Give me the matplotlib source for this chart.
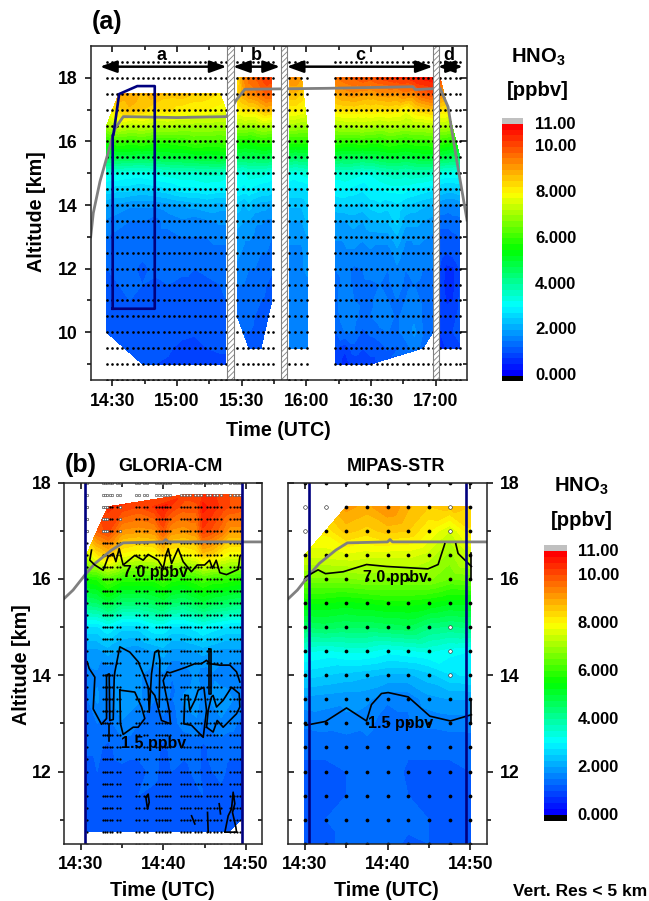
#!/usr/bin/python3
"""HNO3 cross sections: GLORIA flight curtain plus GLORIA-CM / MIPAS-STR zoom.
Times are minutes after 14:30 UTC.
"""

import numpy as np
import matplotlib
matplotlib.use("Agg")
import matplotlib.pyplot as plt
from matplotlib.colors import LinearSegmentedColormap, BoundaryNorm

plt.rcParams['font.family'] = ['Liberation Sans', 'DejaVu Sans']
plt.rcParams['font.weight'] = 'bold'
plt.rcParams['mathtext.default'] = 'regular'
plt.rcParams['hatch.linewidth'] = 0.6

n = np.nan

# colour scale
levels = [0, .25, .5, .75, 1, 1.25, 1.5, 1.75, 2, 2.25, 2.5, 2.75, 3, 3.25, 3.5,
          3.75, 4, 4.25, 4.5, 4.75, 5, 5.25, 5.5, 5.75, 6, 6.25, 6.5, 6.75, 7,
          7.25, 7.5, 7.75, 8, 8.25, 8.5, 8.75, 9, 9.25, 9.5, 9.75, 10, 10.25,
          10.5, 10.75, 11]
cbar_ticks = [0, 2, 4, 6, 8, 10, 11]
cbar_labels = ['0.000', '2.000', '4.000', '6.000', '8.000', '10.00', '11.00']

# panel (a): altitude rows of the filled curtain
alt_a = [18, 17.5, 17, 16.5, 16, 15.5, 15, 14.5, 14, 13.5, 13, 12.5, 12, 11.5,
         11, 10.5, 10, 9.5, 9]

time_seg_a = [-2.6, 3, 8, 14, 20, 26, 32, 38, 44, 50, 52.7]
hno3_seg_a = [
    [n, n, n, n, n, n, n, n, n, n, n],
    [n, 9.1, 9.0, 8.7, 8.9, 8.6, 8.7, 8.5, 8.4, 8.2, n],
    [n, 8.4, 8.7, 8.5, 8.2, 8.3, 8.1, 8.0, 8.0, 7.9, 7.8],
    [7.1, 7.5, 7.3, 7.4, 7.2, 7.2, 7.1, 7.1, 7.1, 7.0, 7.0],
    [5.8, 6.1, 6.0, 6.1, 5.9, 5.9, 6.0, 6.2, 6.1, 6.1, 6.2],
    [4.7, 4.8, 4.8, 4.7, 4.8, 4.9, 4.9, 5.0, 5.0, 5.1, 5.0],
    [3.3, 3.3, 3.2, 3.2, 3.3, 3.4, 3.5, 3.5, 3.6, 3.6, 3.5],
    [2.7, 2.6, 2.6, 2.5, 2.6, 2.7, 2.9, 2.9, 3.0, 2.9, 2.9],
    [2.0, 1.9, 1.8, 1.8, 1.8, 1.9, 2.0, 2.1, 2.2, 2.1, 2.1],
    [1.7, 1.6, 1.5, 1.5, 1.4, 1.6, 1.7, 1.6, 1.7, 1.8, 1.8],
    [1.5, 1.4, 1.4, 1.4, 1.4, 1.4, 1.5, 1.5, 1.5, 1.6, 1.6],
    [1.3, 1.3, 1.4, 1.3, 1.25, 1.3, 1.3, 1.4, 1.4, 1.4, 1.4],
    [1.25, 1.3, 1.3, 1.2, 1.3, 1.25, 1.3, 1.25, 1.3, 1.3, 1.3],
    [1.2, 1.25, 1.25, 1.25, 1.2, 1.25, 1.2, 1.2, 1.2, 1.25, 1.25],
    [1.2, 1.2, 1.25, 1.2, 1.25, 1.2, 1.2, 1.15, 1.15, 1.2, 1.25],
    [1.15, 1.2, 1.2, 1.2, 1.15, 1.2, 1.15, 1.1, 1.15, 1.15, 1.2],
    [1.15, 1.1, 1.15, 1.2, 1.15, 1.15, 1.1, 1.05, 1.1, 1.15, 1.15],
    [n, n, 1.1, 1.1, 1.1, 1.05, .9, .85, 1.0, 1.05, 1.05],
    [n, n, n, 1.05, 1.0, .95, .8, .75, .85, .9, .9],
]

time_seg_b = [58, 61, 63.4, 66, 69, 71.5, 74]
hno3_seg_b = [
    [8.3, 9.3, 9.6, 9.7, 10.0, 10.2, 10.1],
    [8.4, 9.0, 9.3, 9.4, 9.6, 9.8, 9.8],
    [8.0, 8.2, 8.3, 8.3, 8.6, 8.8, 8.7],
    [7.1, 7.1, 7.0, 7.0, 7.2, 7.2, 7.1],
    [5.8, 5.7, 5.7, 5.8, 5.9, 5.9, 5.9],
    [4.6, 4.6, 4.7, 4.6, 4.7, 4.7, 4.6],
    [3.3, 3.2, 3.4, 3.4, 3.4, 3.3, 3.2],
    [3.0, 2.9, 3.0, 2.9, 2.8, 2.8, 2.7],
    [2.4, 2.2, 2.4, 2.2, 2.1, 2.1, 2.0],
    [2.1, 2.0, 2.0, 1.8, 1.8, 1.7, 1.7],
    [1.9, 1.8, 1.8, 1.7, 1.6, 1.6, 1.5],
    [1.8, 1.7, 1.6, 1.6, 1.5, 1.5, 1.4],
    [1.7, 1.6, 1.5, 1.5, 1.4, 1.35, 1.3],
    [1.5, 1.5, 1.4, 1.4, 1.35, 1.25, 1.15],
    [1.4, 1.4, 1.35, 1.35, 1.25, 1.2, 1.1],
    [1.35, 1.35, 1.35, 1.25, 1.2, 1.2, n],
    [n, 1.25, 1.25, 1.2, 1.2, n, n],
    [n, n, 1.2, 1.2, 1.15, n, n],
    [n, n, n, n, n, n, n],
]

time_seg_m = [82, 85, 87.8, 90.4]
hno3_seg_m = [
    [9.2, 9.3, 9.0, n],
    [8.7, 8.7, 8.5, n],
    [8.1, 8.1, 8.0, n],
    [7.1, 7.1, 7.0, 7.0],
    [5.9, 5.9, 5.9, 5.9],
    [4.6, 4.5, 4.6, 4.6],
    [3.3, 3.2, 3.3, 3.4],
    [2.7, 2.7, 2.7, 2.8],
    [2.3, 2.3, 2.3, 2.5],
    [2.0, 2.0, 2.0, 2.3],
    [1.8, 1.8, 1.8, 2.0],
    [1.7, 1.7, 1.7, 1.9],
    [1.7, 1.7, 1.7, 1.8],
    [1.6, 1.6, 1.6, 1.7],
    [1.6, 1.6, 1.6, 1.7],
    [1.55, 1.55, 1.55, 1.6],
    [1.55, 1.55, 1.55, 1.6],
    [1.5, 1.55, 1.55, 1.55],
    [n, n, n, n],
]

time_seg_c = [103.3, 108, 112, 116, 119.8, 124, 128, 132, 136, 140, 144, 148.7]
hno3_seg_c = [
    [9.5, 9.7, 9.8, 10.0, 9.9, 10.1, 10.2, 10.3, 10.3, 10.5, 10.6, 10.7],
    [8.9, 9.1, 9.2, 9.1, 9.0, 9.2, 9.2, 9.1, 9.4, 9.3, 9.8, 10.0],
    [8.2, 8.3, 8.3, 8.2, 8.3, 8.2, 8.3, 8.2, 7.9, 8.3, 8.5, 8.7],
    [7.1, 7.2, 7.2, 7.3, 7.2, 7.1, 7.2, 7.2, 7.1, 7.2, 7.2, 7.3],
    [6.0, 5.9, 5.9, 6.0, 5.9, 5.9, 6.1, 6.0, 5.9, 6.0, 6.0, 6.1],
    [4.8, 4.7, 4.7, 4.6, 4.7, 4.8, 4.9, 4.9, 4.8, 4.9, 5.0, 5.0],
    [3.4, 3.5, 3.4, 3.3, 3.3, 3.5, 3.6, 3.7, 3.6, 3.7, 3.7, 3.6],
    [3.0, 3.0, 2.9, 2.8, 3.0, 3.0, 3.1, 3.1, 3.1, 3.0, 2.9, 2.8],
    [2.4, 2.5, 2.5, 2.4, 2.6, 2.7, 2.6, 2.7, 2.5, 2.4, 2.3, 2.2],
    [2.0, 2.0, 2.1, 2.0, 2.2, 2.3, 2.3, 2.6, 2.1, 2.1, 2.0, 1.9],
    [1.8, 1.8, 1.9, 1.8, 1.9, 1.9, 1.9, 2.2, 1.8, 1.8, 1.8, 1.7],
    [1.6, 1.7, 1.7, 1.6, 1.7, 1.6, 1.6, 1.9, 1.6, 1.7, 1.6, 1.6],
    [1.5, 1.6, 1.45, 1.5, 1.6, 1.5, 1.5, 1.7, 1.5, 1.6, 1.5, 1.5],
    [1.4, 1.6, 1.45, 1.45, 1.45, 1.5, 1.45, 1.6, 1.45, 1.5, 1.45, 1.45],
    [1.4, 1.7, 1.5, 1.45, 1.45, 1.6, 1.5, 1.5, 1.5, 1.6, 1.45, 1.4],
    [1.35, 1.7, 1.6, 1.4, 1.5, 1.6, 1.6, 1.45, 1.6, 1.7, 1.45, 1.4],
    [1.2, 1.5, 1.5, 1.2, 1.3, 1.45, 1.5, 1.45, 1.6, 1.8, 1.5, 1.4],
    [1.0, .8, 1.15, 1.0, 1.1, 1.1, 1.3, 1.2, 1.4, 1.6, 1.4, n],
    [1.0, .6, .8, .8, .9, n, n, n, n, n, n, n],
]

time_seg_d = [152, 155, 158, 161.2]
hno3_seg_d = [
    [10.0, n, n, n],
    [9.3, n, n, n],
    [8.3, 8.2, n, n],
    [7.2, 7.2, n, n],
    [6.0, 5.9, 5.8, n],
    [4.8, 4.7, 4.6, 4.5],
    [3.3, 3.2, 3.2, 3.2],
    [2.5, 2.4, 2.4, 2.5],
    [1.8, 1.7, 1.7, 1.8],
    [1.3, 1.3, 1.4, 1.4],
    [1.2, 1.2, 1.2, 1.25],
    [1.15, 1.0, 1.1, 1.15],
    [.95, .65, .7, 1.0],
    [.95, .6, .65, 1.0],
    [.95, .7, .75, 1.05],
    [1.0, .9, .9, 1.1],
    [.75, .9, 1.0, 1.1],
    [.5, .8, .85, .95],
    [n, n, n, n],
]

# panel (a): retrieval grid dots
dot_alt_a = [18.5, 18, 17.5, 17, 16.5, 16, 15.5, 15, 14.5, 14, 13.5, 13, 12.5,
             12, 11.5, 11, 10.5, 10, 9.5, 9, 8.5]
dot_time_a = [-2.6, -0.2, 2.2, 4.6, 7, 9.4, 11.8, 14.2, 16.6, 19, 21.4, 23.8,
              26.2, 28.6, 31, 33.4, 35.8, 38.2, 40.6, 43, 45.4, 47.8, 50.2,
              52.6, 58, 60.4, 62.8, 65.2, 67.6, 70, 72.4, 74.6, 82, 84.7, 87.4,
              90.1, 103.4, 105.8, 108.2, 110.6, 113, 115.4, 117.8, 120.2,
              122.6, 125, 127.4, 129.8, 132.2, 134.6, 137, 139.4, 141.8, 144.2,
              146.6, 148.8, 152, 154.4, 156.8, 159.2, 161.3]

# panel (a): flight altitude and the zoomed box
flight_time_a = [-10, -8.8, -5.7, -1.1, 1.25, 5.1, 30, 53, 57.5, 61.5, 100,
                 139.4, 140.5, 152, 155.7, 159.7, 164.5]
flight_alt_a = [13, 13.75, 14.74, 15.84, 16.4, 16.78, 16.75, 16.78, 17.3, 17.64,
                17.67, 17.72, 17.63, 17.67, 17.09, 15.42, 13.53]
box_time = [0.2, 0.2, 0.5, 3.2, 11.6, 19.7, 19.7, 0.2]
box_alt = [10.74, 16.2, 16.2, 17.49, 17.74, 17.74, 10.74, 10.74]

gap_start = [53, 78.2, 148.9]
gap_end = [56.5, 81.1, 151.6]
leg_start = [-5.7, 56, 80.9, 151]
leg_end = [53, 77.8, 148.6, 162.6]
leg_names = ['a', 'b', 'c', 'd']
leg_name_time = [22.6, 67, 115, 156]

# panel (b): GLORIA-CM
alt_g = [17.75, 17.5, 17, 16.5, 16, 15.5, 15, 14.5, 14, 13.5, 13, 12.5, 12,
         11.5, 11, 10.75]
time_g = [0.7, 2, 3.3, 5, 7, 9, 10, 11, 12.5, 14, 14.8, 16, 17, 18, 19.4]
hno3_g = [
    [n, n, n, n, n, n, n, n, 10.1, 10.2, 10.3, 10.3, 10.1, 10.0, 9.9],
    [n, n, 10.3, 10.2, 10.0, 10.3, 10.6, 10.2, 9.9, 9.9, 10.6, 10.4, 10.2, 10.0, 9.9],
    [n, 9.8, 10.1, 9.2, 9.1, 9.2, 9.9, 9.2, 9.1, 9.3, 10.2, 9.9, 9.6, 9.1, 9.1],
    [7.4, 8.2, 8.6, 7.9, 7.7, 7.8, 8.3, 7.9, 7.8, 8.0, 8.6, 8.4, 8.0, 7.8, 7.8],
    [5.7, 5.8, 6.3, 5.9, 5.9, 5.9, 6.2, 5.9, 5.8, 6.0, 6.2, 6.0, 6.0, 5.9, 5.8],
    [4.4, 4.5, 4.9, 4.4, 4.4, 4.6, 4.8, 4.5, 4.4, 4.7, 4.9, 4.7, 4.6, 4.5, 4.4],
    [2.7, 2.7, 3.0, 2.6, 2.6, 3.0, 3.0, 2.7, 2.7, 2.9, 3.1, 2.9, 2.8, 2.7, 2.7],
    [1.9, 1.9, 2.1, 1.9, 1.8, 2.0, 2.1, 1.9, 1.9, 2.0, 2.1, 2.0, 1.9, 1.9, 1.9],
    [1.6, 1.7, 1.5, 1.9, 1.8, 1.5, 1.7, 1.5, 1.6, 1.8, 1.6, 1.7, 1.6, 1.6, 1.6],
    [1.45, 1.8, 1.45, 2.0, 1.8, 1.5, 1.6, 1.45, 1.8, 1.9, 1.6, 1.8, 1.9, 1.8, 1.6],
    [1.45, 1.5, 1.4, 1.7, 1.5, 1.4, 1.45, 1.4, 1.6, 1.7, 1.45, 1.6, 1.7, 1.6, 1.45],
    [1.3, 1.3, 1.2, 1.35, 1.3, 1.3, 1.2, 1.3, 1.3, 1.35, 1.2, 1.3, 1.35, 1.3, 1.3],
    [1.15, 1.25, 1.15, 1.2, 1.2, 1.3, 1.15, 1.25, 1.2, 1.3, 1.2, 1.25, 1.3, 1.2, 1.2],
    [1.15, 1.2, 1.2, 1.15, 1.25, 1.2, 1.15, 1.25, 1.2, 1.2, 1.25, 1.2, 1.2, 1.15, 1.2],
    [1.15, 1.15, 1.2, 1.15, 1.2, 1.2, 1.15, 1.2, 1.15, 1.2, 1.2, 1.15, 1.2, 1.2, 1.25],
    [1.15, 1.15, 1.15, 1.15, 1.15, 1.15, 1.15, 1.15, 1.15, 1.15, 1.15, 1.15, 1.15, 1.25, n],
]
dot_time_g = [.8, 2.66, 2.94, 3.22, 3.54, 3.82, 4.43, 4.83, 6.69, 7.09, 7.65, 8,
              9.18, 9.5, 9.83, 10.15, 10.47, 10.8, 12.1, 12.5, 12.9, 13.2, 13.8,
              14.2, 14.6, 15.3, 15.7, 16.1, 16.5, 17, 18.1, 18.5, 18.9, 19.3]
dot_alt_g = [17.5, 17.25, 17, 16.75, 16.5, 16.25, 16, 15.75, 15.5, 15.25, 15,
             14.75, 14.5, 14.25, 14, 13.75, 13.5, 13.25, 13, 12.75, 12.5, 12.25,
             12, 11.75, 11.5, 11.25, 11, 10.75]
hollow_alt_g = [18, 17.75]
faint_alt_g = [10.5]
hollow_time_17 = [.8, 2.66, 2.94, 3.22, 4.83]
hollow_alt_17 = [17.5, 17.25, 17]

# 7.0 ppbv and 1.5 ppbv isolines, traced by eye
g70_time = [1.33, 1.12, 1.73, 2.74, 3.34, 3.95, 4.27, 4.67, 5.15, 6.56, 7.57,
            8.18, 9.38, 9.99, 10.31, 10.6, 11, 11.8, 12.4, 13.4, 14.1, 15, 15.6,
            15.95, 16.4, 16.84, 17.65, 19.06, 19.26]
g70_alt = [16.6, 16.39, 16.29, 16.18, 16.46, 16.53, 16.36, 16.63, 16.29, 16.49,
           16.39, 16.51, 16.39, 16.22, 16.49, 16.63, 16.32, 16.63, 16.36, 16.15,
           16.29, 16.29, 16.39, 16.22, 16.39, 16.13, 16.09, 16.2, 16.46]
g15_lines = [
    ([.8, 1.04, 1.73, 1.53, 2.53, 3.14, 3.14, 3.46, 3.54, 3.95, 4.07, 4.15, 4.75,
      5.96, 6.97, 7.65, 8.18, 8.3, 8.58, 8.98, 9.39, 9.59, 9.51],
     [14.28, 14.14, 13.96, 13.3, 12.98, 13.1, 14, 14.03, 13.06, 13.08, 13.96,
      14.07, 14.59, 14.48, 14.28, 14, 13.75, 13.23, 14.03, 14.48, 14.52, 14.31,
      13.34]),
    ([3.46, 3.46], [12.99, 12.64]),
    ([4.75, 6.56, 7.37, 7.77, 6.97, 6.36, 5.15, 4.83, 4.75],
     [13.69, 13.65, 13.34, 13.1, 12.92, 12.92, 12.77, 12.99, 13.69]),
    ([8.18, 8.98, 9.79, 10.88, 10.72, 9.99, 10.47, 10.8, 12, 12.81, 13.82, 14.62,
      15.23, 15.63, 16.84, 18.05, 18.86, 19.26],
     [13.75, 13.58, 13.06, 12.99, 13.27, 13.89, 14.07, 14.05, 14.12, 14.17,
      14.24, 14.24, 14.31, 14.24, 14.21, 14.21, 14.07, 13.86]),
    ([15.55, 15.55, 15.83, 15.83, 15.55], [14.55, 13.62, 13.62, 14.55, 14.55]),
    ([12.61, 12.49, 13.42, 14.83, 15.23, 14.91, 14.22, 13.82, 13.21, 13.01, 12.61],
     [13.58, 12.99, 12.96, 12.71, 13.27, 13.75, 13.69, 13.48, 13.27, 13.58, 13.58]),
    ([15.23, 16.03, 16.52, 17.24, 18.86, 19.26, 19.18, 18.25, 17.24, 16.44, 16.03,
      15.83, 15.43, 15.23],
     [12.92, 12.82, 13.06, 12.92, 13.2, 13.34, 13.62, 13.75, 13.48, 13.34, 13.58,
      13.55, 13.27, 12.92]),
    ([7.89, 8.18, 8.3, 8.1, 7.89], [11.47, 11.53, 11.36, 11.22, 11.47]),
    ([13.42, 13.82], [11.08, 10.91]),
    ([15.35, 15.43], [11.15, 10.74]),
    ([16.76, 16.92], [11.33, 11.12]),
    ([17.45, 17.85, 18.25, 18.45, 18.65, 18.37, 18.78, 18.86, 17.45],
     [10.74, 11.08, 11.22, 11.57, 11.33, 11.15, 10.84, 10.74, 10.74]),
]

# panel (b): MIPAS-STR
alt_m = [17.5, 17, 16.5, 16, 15.5, 15, 14.5, 14, 13.5, 13, 12.5, 12, 11.5, 11, 10.5]
time_m = [0, 2.5, 5, 7.5, 10, 12.5, 15, 17.5, 20]
hno3_m = [
    [n, n, 9.1, 8.9, 9.3, 8.8, 8.5, 8.6, 8.5],
    [n, 8.1, 8.6, 8.4, 8.6, 8.5, 8.0, 7.5, 8.2],
    [7.6, 7.6, 7.7, 7.6, 7.6, 7.6, 7.4, 6.9, 7.5],
    [6.7, 6.7, 6.7, 6.8, 6.8, 6.8, 6.8, 6.5, 6.6],
    [5.5, 5.5, 5.4, 5.5, 5.6, 5.6, 5.5, 5.3, 5.3],
    [4.5, 4.6, 4.5, 4.5, 4.6, 4.7, 4.3, 4.2, 4.3],
    [3.3, 3.2, 3.3, 3.3, 3.1, 3.2, 3.3, 3.1, 3.0],
    [2.6, 2.5, 2.4, 2.3, 2.2, 2.2, 2.4, 2.7, 2.8],
    [1.9, 1.85, 1.8, 1.8, 1.55, 1.55, 1.9, 2.0, 2.0],
    [1.55, 1.6, 1.7, 1.6, 1.3, 1.45, 1.55, 1.6, 1.6],
    [1.3, 1.3, 1.25, 1.4, 1.25, 1.3, 1.3, 1.3, 1.35],
    [1.2, 1.2, 1.25, 1.45, 1.4, 1.2, 1.2, 1.2, 1.25],
    [1.2, 1.2, 1.25, 1.4, 1.45, 1.25, 1.2, 1.2, 1.25],
    [1.2, 1.25, 1.3, 1.35, 1.45, 1.4, 1.25, 1.2, 1.25],
    [1.2, 1.2, 1.3, 1.35, 1.45, 1.15, 1.25, 1.2, 1.2],
]
dot_alt_m = [18, 17.5, 17, 16.5, 16, 15.5, 15, 14.5, 14, 13.5, 13, 12.5, 12,
             11.5, 11, 10.5]
hollow_time_m = [0, 2.5, 0, 17.5, 17.5, 17.5, 17.5, 17.5]
hollow_alt_m = [17.5, 17.5, 17, 17.5, 17, 15, 14.5, 14]

m70_time = [.08, 1.6, 2.5, 4.64, 7.46, 9.87, 14.9, 16.12, 16.93]
m70_alt = [16.04, 16.19, 16.11, 16.15, 16.3, 16.26, 16.21, 16.3, 16.73]
m70_time2 = [18.26, 18.54, 20.15]
m70_alt2 = [16.73, 16.53, 16.26]
m70_stub_time = [20.15, 20.15]
m70_stub_alt = [16.53, 15.97]
m15_time = [.08, 2.5, 5.04, 7.46, 8.06, 9.27, 10.08, 12.5, 15.12, 17.61, 20.15]
m15_alt = [12.96, 13.04, 13.32, 13.05, 13.39, 13.62, 13.64, 13.55, 13.15, 13.05,
           13.18]
m15_stub_time = [20.15, 20.15]
m15_stub_alt = [13.48, 12.99]

# flight altitude in the zoom panels
flight_time_b = [-2, -0.9, .52, 1.73, 3.75, 5.15, 10, 10.3, 10.6, 22]
flight_alt_b = [15.59, 15.77, 16.08, 16.32, 16.6, 16.75, 16.77, 16.82, 16.77, 16.77]
zoom_start = 0.56
zoom_end = 19.5

WIDTH, HEIGHT = 649, 901
NAVY = '#00007f'
GRAY = '#808080'

cmap = LinearSegmentedColormap.from_list(
    'hno3', [(0, (0, 0, 1)), (3 / 11, (0, 1, 1)), (5.5 / 11, (0, 1, 0)),
             (8 / 11, (1, 1, 0)), (1, (1, 0, 0))], N=44)
cmap.set_under('black')
cmap.set_over('#c0c0c0')
norm = BoundaryNorm(levels, cmap.N)


def px_axes(fig, left, top, right, bottom):
    """Add axes given by pixel edges, measured from the top left of the figure."""
    return fig.add_axes([left / WIDTH, 1 - bottom / HEIGHT,
                         (right - left) / WIDTH, (bottom - top) / HEIGHT])


def fill_block(ax, times, alts, values):
    """Filled contours over the valid points; the hull gives the slanted edges."""
    tt, zz = np.meshgrid(times, alts)
    vals = np.array(values, dtype=float)
    ok = ~np.isnan(vals)
    ax.tricontourf(tt[ok], zz[ok], vals[ok], levels=levels, cmap=cmap, norm=norm,
                   zorder=1)


def grid_dots(ax, times, alts, size, color='black'):
    tt, zz = np.meshgrid(times, alts)
    ax.plot(tt.ravel(), zz.ravel(), 'o', ms=size, color=color, mec='none', zorder=2)


def open_dots(ax, times, alts, size):
    ax.plot(times, alts, 'o', ms=size, mfc='white', mec='#404040', mew=0.4, zorder=2)


def style_axes(ax, xticks, xlabels, xminor, yticks, yminor):
    ax.set_xticks(xticks)
    ax.set_xticklabels(xlabels, fontsize=12.7)
    ax.set_xticks(xminor, minor=True)
    ax.set_yticks(yticks)
    ax.set_yticks(yminor, minor=True)
    ax.tick_params(axis='both', which='major', length=4.2, width=1.1, labelsize=12.7)
    ax.tick_params(axis='x', which='major', pad=5)
    ax.tick_params(axis='y', which='major', pad=5)
    ax.tick_params(axis='both', which='minor', length=2.8, width=1.1)
    for side in ax.spines.values():
        side.set_linewidth(1.1)
        side.set_color('#222222')
        side.set_zorder(10)


def inward_mirror_ticks(ax, y_in_side):
    """Top and far side carry inward ticks without labels."""
    sec_x = ax.secondary_xaxis('top')
    sec_x.set_xticks(ax.get_xticks())
    sec_x.set_xticks(ax.get_xticks(minor=True), minor=True)
    sec_x.tick_params(axis='x', which='major', direction='in', length=4.2, width=1.1,
                      labeltop=False)
    sec_x.tick_params(axis='x', which='minor', direction='in', length=2.8, width=1.1)
    sec_x.spines['top'].set_visible(False)
    sec_y = ax.secondary_yaxis(y_in_side)
    sec_y.set_yticks(ax.get_yticks())
    sec_y.set_yticks(ax.get_yticks(minor=True), minor=True)
    sec_y.tick_params(axis='y', which='major', direction='in', length=4.2, width=1.1,
                      labelleft=False, labelright=False)
    sec_y.tick_params(axis='y', which='minor', direction='in', length=2.8, width=1.1)
    sec_y.spines[y_in_side].set_visible(False)


def colour_bar(fig, left, top, right, bottom, label_x):
    ax = px_axes(fig, left, top, right, bottom)
    edges = [-0.25] + levels + [11.25]
    mids = np.array([-0.125] + [l + 0.125 for l in levels[:-1]] + [11.125])
    ax.pcolormesh([0, 1], edges, mids.reshape(-1, 1), cmap=cmap, norm=norm)
    ax.set_ylim(-0.25, 11.25)
    ax.set_xticks([])
    ax.set_yticks([])
    for side in ax.spines.values():
        side.set_visible(False)
    for tick, label in zip(cbar_ticks, cbar_labels):
        ax.annotate(label, (0, tick), xycoords=('axes fraction', 'data'),
                    xytext=(label_x / WIDTH, 0),
                    textcoords=('figure fraction', 'offset points'),
                    fontsize=12, va='center', ha='left')


def fig_text(fig, x, y, s, **kw):
    fig.text(x / WIDTH, 1 - y / HEIGHT, s, ha=kw.pop('ha', 'center'),
             va=kw.pop('va', 'center'), **kw)


fig = plt.figure(figsize=(WIDTH / 100, HEIGHT / 100), dpi=100)

# ---- panel (a)
ax_a = px_axes(fig, 90.7, 46, 467, 380)
fill_block(ax_a, time_seg_a, alt_a, hno3_seg_a)
fill_block(ax_a, time_seg_b, alt_a, hno3_seg_b)
fill_block(ax_a, time_seg_m, alt_a, hno3_seg_m)
fill_block(ax_a, time_seg_c, alt_a, hno3_seg_c)
fill_block(ax_a, time_seg_d, alt_a, hno3_seg_d)
grid_dots(ax_a, dot_time_a, dot_alt_a, 1.9)
ax_a.plot(flight_time_a, flight_alt_a, color=GRAY, lw=2.0, zorder=3)
ax_a.plot(box_time, box_alt, color=NAVY, lw=1.9, zorder=4)
for g0, g1 in zip(gap_start, gap_end):
    ax_a.axvspan(g0, g1, facecolor='white', edgecolor=GRAY, hatch='//////', lw=0.8,
                 zorder=5)
for l0, l1 in zip(leg_start, leg_end):
    ax_a.annotate('', xy=(l0, 18.35), xytext=(l1, 18.35), zorder=6,
                  arrowprops=dict(arrowstyle='<|-|>,head_length=1.0,head_width=0.36',
                                  color='black', lw=1.8, shrinkA=0, shrinkB=0))
for name, t in zip(leg_names, leg_name_time):
    ax_a.text(t, 18.7, name, ha='center', va='center', fontsize=13, zorder=6)
ax_a.set_xlim(-10, 164.5)
ax_a.set_ylim(8.5, 19)
style_axes(ax_a, [0, 30, 60, 90, 120, 150],
           ['14:30', '15:00', '15:30', '16:00', '16:30', '17:00'],
           [15, 45, 75, 105, 135],
           [10, 12, 14, 16, 18], [9, 11, 13, 15, 17])
inward_mirror_ticks(ax_a, 'right')

colour_bar(fig, 501.7, 118.3, 523.3, 381.3, 535)

# ---- panel (b), GLORIA-CM
ax_g = px_axes(fig, 64, 482.7, 261.7, 843.7)
fill_block(ax_g, time_g, alt_g, hno3_g)
grid_dots(ax_g, dot_time_g, dot_alt_g, 1.6)
grid_dots(ax_g, dot_time_g, faint_alt_g, 1.6, color='#a0a0a0')
tt_h, zz_h = np.meshgrid(dot_time_g, hollow_alt_g)
open_dots(ax_g, tt_h.ravel(), zz_h.ravel(), 1.8)
tt_h, zz_h = np.meshgrid(hollow_time_17, hollow_alt_17)
open_dots(ax_g, tt_h.ravel(), zz_h.ravel(), 1.8)
ax_g.plot(flight_time_b, flight_alt_b, color=GRAY, lw=2.0, zorder=3)
ax_g.plot(g70_time, g70_alt, color='black', lw=1.2, zorder=4)
for line_t, line_z in g15_lines:
    ax_g.plot(line_t, line_z, color='black', lw=1.2, zorder=4)
ax_g.text(9, 16.13, '7.0 ppbv', fontsize=11.5, ha='center', va='center', zorder=5)
ax_g.text(8.8, 12.59, '1.5 ppbv', fontsize=11.5, ha='center', va='center', zorder=5)
ax_g.axvline(zoom_start, color=NAVY, lw=1.9, zorder=6)
ax_g.axvline(zoom_end, color=NAVY, lw=1.9, zorder=6)
ax_g.set_xlim(-2, 21.9)
ax_g.set_ylim(10.5, 18)
style_axes(ax_g, [0, 10, 20], ['14:30', '14:40', '14:50'], [5, 15],
           [12, 14, 16, 18], [11, 13, 15, 17])
inward_mirror_ticks(ax_g, 'right')

# ---- panel (b), MIPAS-STR
ax_m = px_axes(fig, 288.3, 482.7, 486.7, 843.7)
fill_block(ax_m, time_m, alt_m, hno3_m)
grid_dots(ax_m, time_m, dot_alt_m, 2.7)
open_dots(ax_m, hollow_time_m, hollow_alt_m, 2.6)
ax_m.plot(flight_time_b, flight_alt_b, color=GRAY, lw=2.0, zorder=3)
ax_m.plot(m70_time, m70_alt, color='black', lw=1.2, zorder=4)
ax_m.plot(m70_time2, m70_alt2, color='black', lw=1.2, zorder=4)
ax_m.plot(m70_stub_time, m70_stub_alt, color='black', lw=1.2, zorder=4)
ax_m.plot(m15_time, m15_alt, color='black', lw=1.2, zorder=4)
ax_m.plot(m15_stub_time, m15_stub_alt, color='black', lw=1.2, zorder=4)
ax_m.text(11, 16.03, '7.0 ppbv', fontsize=11.5, ha='center', va='center', zorder=5)
ax_m.text(11.6, 13.0, '1.5 ppbv', fontsize=11.5, ha='center', va='center', zorder=5)
ax_m.axvline(zoom_start, color=NAVY, lw=1.9, zorder=6)
ax_m.axvline(zoom_end, color=NAVY, lw=1.9, zorder=6)
ax_m.set_xlim(-2, 22)
ax_m.set_ylim(10.5, 18)
style_axes(ax_m, [0, 10, 20], ['14:30', '14:40', '14:50'], [5, 15],
           [12, 14, 16, 18], [11, 13, 15, 17])
ax_m.yaxis.tick_right()
inward_mirror_ticks(ax_m, 'left')

colour_bar(fig, 544.3, 545, 566.7, 821, 577.7)

# ---- free text
fig_text(fig, 107, 22, '(a)', fontsize=18)
fig_text(fig, 81, 465, '(b)', fontsize=18)
fig_text(fig, 170, 466.7, 'GLORIA-CM', fontsize=13)
fig_text(fig, 396, 466.7, 'MIPAS-STR', fontsize=13)
fig_text(fig, 37, 212, 'Altitude [km]', fontsize=14.2, rotation=90)
fig_text(fig, 22, 665, 'Altitude [km]', fontsize=14.2, rotation=90)
fig_text(fig, 278, 431, 'Time (UTC)', fontsize=14.2)
fig_text(fig, 162.7, 890.5, 'Time (UTC)', fontsize=14.2)
fig_text(fig, 386.7, 890.5, 'Time (UTC)', fontsize=14.2)
fig_text(fig, 647, 891.5, 'Vert. Res < 5 km', fontsize=12.5, ha='right')
fig_text(fig, 538, 57, 'HNO$_3$', fontsize=14.6)
fig_text(fig, 538, 90.5, '[ppbv]', fontsize=14.6)
fig_text(fig, 581.7, 486, 'HNO$_3$', fontsize=14.6)
fig_text(fig, 581.7, 520, '[ppbv]', fontsize=14.6)

fig.savefig("out.png", dpi=100)
